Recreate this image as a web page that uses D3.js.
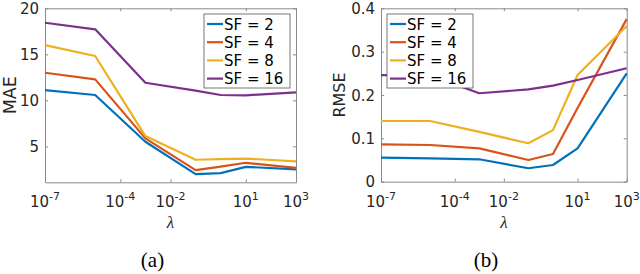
<!DOCTYPE html>
<html><head><meta charset="utf-8">
<script src="https://cdn.jsdelivr.net/npm/d3@7"></script>
<style>
html,body{margin:0;padding:0;background:#fff;}
svg{display:block;}
</style></head>
<body>
<svg id="chart" width="640" height="274"></svg>
<script>
// ---------- data ----------
const lambdas = [1e-7, 1e-5, 1e-3, 1e-1, 1e0, 1e1, 1e3];
const seriesNames = ["SF = 2", "SF = 4", "SF = 8", "SF = 16"];
const seriesColors = ["#0072BD", "#D95319", "#EDB120", "#7E2F8E"];

const maeSF2  = [11.12, 10.58, 5.50, 1.99, 2.10, 2.78, 2.50];
const maeSF4  = [13.00, 12.28, 5.87, 2.42, 2.80, 3.22, 2.67];
const maeSF8  = [16.00, 14.82, 6.12, 3.55, 3.62, 3.68, 3.37];
const maeSF16 = [18.43, 17.72, 11.91, 11.05, 10.58, 10.55, 10.87];

const rmseSF2  = [0.0554, 0.0540, 0.0517, 0.0310, 0.0385, 0.0770, 0.2500];
const rmseSF4  = [0.0860, 0.0847, 0.0770, 0.0500, 0.0640, 0.1700, 0.3750];
const rmseSF8  = [0.1400, 0.1400, 0.1150, 0.0886, 0.1190, 0.2460, 0.3590];
const rmseSF16 = [0.2460, 0.2450, 0.2040, 0.2130, 0.2215, 0.2346, 0.2616];

const xTicks = [1e-7, 1e-4, 1e-2, 1e1, 1e3];
const xTickLabels = ["-7", "-4", "-2", "1", "3"];
const maeTicks = [5, 10, 15, 20];
const maeTickLabels = ["5", "10", "15", "20"];
const rmseTicks = [0, 0.1, 0.2, 0.3, 0.4];
const rmseTickLabels = ["0", "0.1", "0.2", "0.3", "0.4"];

const svg = d3.select("#chart");
const SANS = "'DejaVu Sans', sans-serif";
const SERIF = "'Liberation Serif', 'Times New Roman', serif";
const AX = "#8a8a8a";
const TXT = "#262626";

function panel(cfg) {
  const x = d3.scaleLog().domain([1e-7, 1e3]).range([cfg.x0, cfg.x1]);
  const y = d3.scaleLinear().domain(cfg.yDomain).range([cfg.y1, cfg.y0]);
  const g = svg.append("g");

  // box axes with inward ticks
  const bottom = g.append("g").attr("transform", `translate(0,${cfg.y1})`)
    .call(d3.axisBottom(x).tickValues(xTicks).tickSizeInner(-3).tickSizeOuter(0).tickFormat(""));
  const top = g.append("g").attr("transform", `translate(0,${cfg.y0})`)
    .call(d3.axisTop(x).tickValues(xTicks).tickSizeInner(-3).tickSizeOuter(0).tickFormat(""));
  const left = g.append("g").attr("transform", `translate(${cfg.x0},0)`)
    .call(d3.axisLeft(y).tickValues(cfg.yTicks).tickSizeInner(-3).tickSizeOuter(0).tickFormat(""));
  const right = g.append("g").attr("transform", `translate(${cfg.x1},0)`)
    .call(d3.axisRight(y).tickValues(cfg.yTicks).tickSizeInner(-3).tickSizeOuter(0).tickFormat(""));
  [bottom, top, left, right].forEach(a => {
    a.selectAll("path.domain").attr("stroke", AX).attr("stroke-width", 1);
    a.selectAll(".tick line").attr("stroke", AX).attr("stroke-width", 1);
  });

  // x tick labels 10^n
  xTicks.forEach((t, i) => {
    const tx = g.append("text")
      .attr("x", x(t)).attr("y", cfg.y1 + 25)
      .attr("text-anchor", "middle")
      .attr("font-family", SANS).attr("font-size", 15).attr("fill", TXT);
    tx.append("tspan").text("10");
    tx.append("tspan").attr("dy", -7).attr("font-size", 11).text(xTickLabels[i]);
  });

  // y tick labels
  cfg.yTicks.forEach((t, i) => {
    g.append("text")
      .attr("x", cfg.x0 - 6).attr("y", y(t) + 5.5)
      .attr("text-anchor", "end")
      .attr("font-family", SANS).attr("font-size", 15).attr("fill", TXT)
      .text(cfg.yTickLabels[i]);
  });

  // y label
  g.append("text")
    .attr("transform", `translate(${cfg.ylabX},${(cfg.y0 + cfg.y1) / 2}) rotate(-90)`)
    .attr("text-anchor", "middle")
    .attr("font-family", SANS).attr("font-size", cfg.ylabSize).attr("fill", TXT)
    .text(cfg.ylabel);

  // x label lambda
  g.append("text")
    .attr("x", (cfg.x0 + cfg.x1) / 2).attr("y", cfg.y1 + 46)
    .attr("text-anchor", "middle")
    .attr("font-family", SERIF).attr("font-style", "italic").attr("font-size", 17).attr("fill", TXT)
    .text("λ");

  // caption
  g.append("text")
    .attr("x", cfg.capX).attr("y", 267)
    .attr("text-anchor", "middle")
    .attr("font-family", SERIF).attr("font-size", 21).attr("fill", "#000")
    .text(cfg.caption);

  // lines
  const line = d3.line().x((d, i) => x(lambdas[i])).y(d => y(d));
  cfg.series.forEach((s, k) => {
    g.append("path").datum(s)
      .attr("fill", "none").attr("stroke", seriesColors[k])
      .attr("stroke-width", 2.2).attr("stroke-linejoin", "round")
      .attr("d", line);
  });

  // legend
  const lg = g.append("g").attr("transform", `translate(${cfg.legX},14)`);
  lg.append("rect").attr("x", 0).attr("y", 0).attr("width", 86).attr("height", 74)
    .attr("fill", "#fff").attr("stroke", "#555").attr("stroke-width", 0.8);
  seriesNames.forEach((n, k) => {
    const cy = 10 + k * 18.2;
    lg.append("line").attr("x1", 3).attr("x2", 19).attr("y1", cy).attr("y2", cy)
      .attr("stroke", seriesColors[k]).attr("stroke-width", 2.2);
    lg.append("text").attr("x", 20).attr("y", cy + 5.5)
      .attr("font-family", SANS).attr("font-size", 15).attr("fill", "#000")
      .text(n);
  });
}

panel({
  x0: 45, x1: 296, y0: 8.3, y1: 182.3, yDomain: [1.1, 20],
  yTicks: maeTicks, yTickLabels: maeTickLabels, ylabel: "MAE", ylabX: 16, ylabSize: 17.5,
  caption: "(a)", capX: 152.5, legX: 204,
  series: [maeSF2, maeSF4, maeSF8, maeSF16]
});
panel({
  x0: 381, x1: 626.7, y0: 8.3, y1: 181.7, yDomain: [0, 0.4],
  yTicks: rmseTicks, yTickLabels: rmseTickLabels, ylabel: "RMSE", ylabX: 345, ylabSize: 16,
  caption: "(b)", capX: 486, legX: 387,
  series: [rmseSF2, rmseSF4, rmseSF8, rmseSF16]
});
</script>
</body></html>
